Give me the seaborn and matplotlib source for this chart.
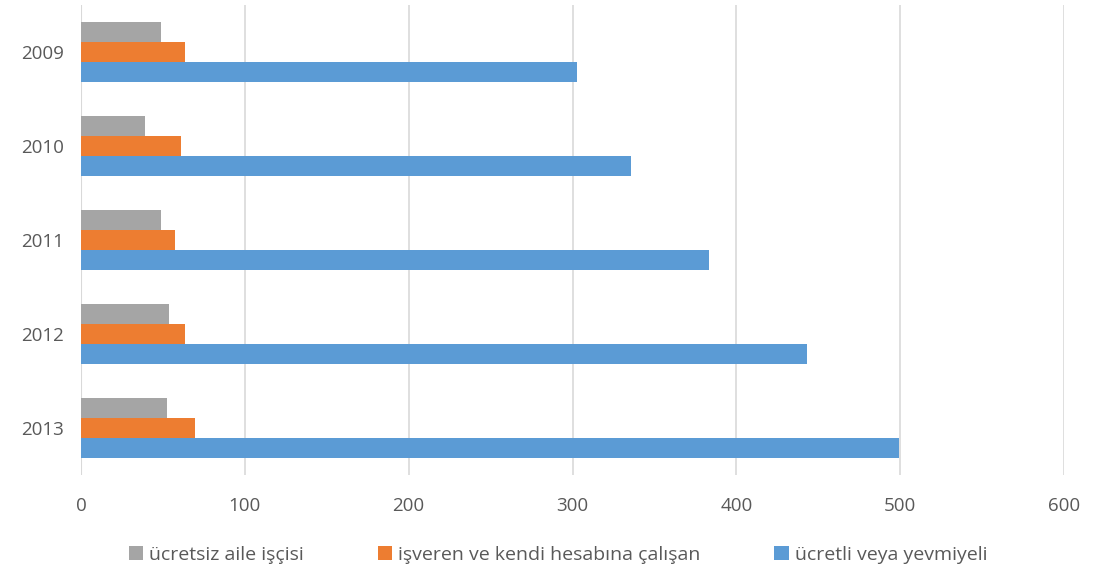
import matplotlib
matplotlib.use("Agg")
import matplotlib.pyplot as plt
import seaborn as sns
import pandas as pd

years = ["2009", "2010", "2011", "2012", "2013"]
series_names = ["ücretsiz aile işçisi", "işveren ve kendi hesabına çalışan", "ücretli veya yevmiyeli"]
unpaid_family = [48.8, 39.3, 48.8, 53.9, 52.7]
employer_self = [63.5, 61.2, 57.6, 63.5, 69.8]
wage_earner = [302.6, 335.6, 383.4, 443.0, 499.4]
colors = ["#A5A5A5", "#ED7D31", "#5B9BD5"]
x_ticks = [0, 100, 200, 300, 400, 500, 600]

rows = []
for name, vals in zip(series_names, [unpaid_family, employer_self, wage_earner]):
    for y, v in zip(years, vals):
        rows.append({"year": y, "series": name, "value": v})
df = pd.DataFrame(rows)

sns.set_theme(style="white")
plt.rcParams["font.family"] = ["Open Sans", "DejaVu Sans"]

fig = plt.figure(figsize=(10.94, 5.77), dpi=100)
ax = fig.add_axes([81/1094, 1-475/577, (1064-81)/1094, (475-5)/577])

sns.barplot(data=df, x="value", y="year", hue="series", order=years,
            hue_order=series_names, palette=colors, orient="h",
            width=0.63, ax=ax, saturation=1, legend=True, linewidth=0)

ax.set_xlim(0, 600)
ax.set_ylim(4.5, -0.5)
ax.set_xticks(x_ticks)
ax.set_xlabel("")
ax.set_ylabel("")
ax.grid(axis="x", color="#D9D9D9", linewidth=1.2)
ax.set_axisbelow(True)
for s in ax.spines.values():
    s.set_visible(False)
ax.axvline(0, color="#D9D9D9", linewidth=1.5, zorder=0.5)
ax.tick_params(axis="both", length=0, labelsize=13.5, colors="#595959")
ax.tick_params(axis="x", pad=16)
ax.tick_params(axis="y", pad=12)

handles, labels = ax.get_legend_handles_labels()
ax.get_legend().remove()
fig.legend(handles, labels, loc="center", bbox_to_anchor=(0.51, 1-555/577),
           ncol=3, frameon=False, fontsize=14, labelcolor="#595959",
           handlelength=0.75, handleheight=0.75, handletextpad=0.3, columnspacing=3.8)

fig.savefig("out.png", dpi=100)
